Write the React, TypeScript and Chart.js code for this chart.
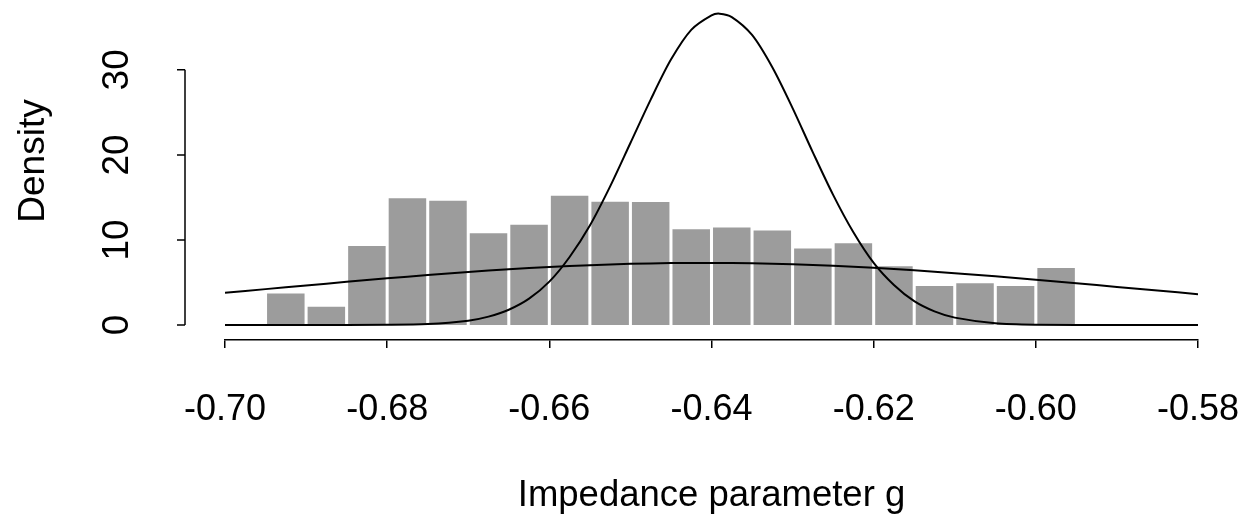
import React, { useEffect, useRef } from "react";
import { Chart, registerables } from "chart.js";

Chart.register(...registerables);

// Histogram bins (midpoints) and density heights
const binMids = [
  -0.6925, -0.6875, -0.6825, -0.6775, -0.6725, -0.6675, -0.6625, -0.6575, -0.6525, -0.6475,
  -0.6425, -0.6375, -0.6325, -0.6275, -0.6225, -0.6175, -0.6125, -0.6075, -0.6025, -0.5975,
];
const binHeights = [
  3.7, 2.15, 9.3, 14.9, 14.6, 10.8, 11.8, 15.2, 14.5, 14.45,
  11.25, 11.45, 11.1, 9.0, 9.6, 6.9, 4.6, 4.9, 4.6, 6.7,
];

// Narrow (posterior) density curve
const narrowX = [
  -0.7, -0.69, -0.68, -0.675, -0.67, -0.6675, -0.665, -0.6625, -0.66, -0.6575,
  -0.655, -0.6525, -0.65, -0.6475, -0.645, -0.6425, -0.64, -0.639, -0.6375, -0.635,
  -0.6325, -0.63, -0.6275, -0.625, -0.6225, -0.62, -0.6175, -0.615, -0.6125, -0.61,
  -0.605, -0.6, -0.59, -0.58,
];
const narrowY = [
  0, 0, 0.02, 0.11, 0.51, 0.99, 1.8, 3.1, 5.1, 8.0,
  11.7, 16.3, 21.4, 26.5, 31.2, 34.7, 36.4, 36.6, 36.2, 34.1,
  30.3, 25.5, 20.3, 15.3, 10.9, 7.3, 4.7, 2.8, 1.6, 0.87,
  0.21, 0.04, 0, 0,
];

// Wide (prior) density curve
const wideX = [
  -0.7, -0.695, -0.69, -0.685, -0.68, -0.675, -0.67, -0.665, -0.66, -0.655,
  -0.65, -0.645, -0.64, -0.635, -0.63, -0.625, -0.62, -0.615, -0.61, -0.605,
  -0.6, -0.595, -0.59, -0.585, -0.58,
];
const wideY = [
  3.8, 4.22, 4.65, 5.08, 5.49, 5.88, 6.24, 6.55, 6.82, 7.04,
  7.19, 7.28, 7.3, 7.25, 7.14, 6.96, 6.72, 6.43, 6.1, 5.73,
  5.33, 4.91, 4.48, 4.05, 3.63,
];

const xTicks = [-0.7, -0.68, -0.66, -0.64, -0.62, -0.6, -0.58];
const yTicks = [0, 10, 20, 30];
const xTitle = "Impedance parameter g";
const yTitle = "Density";

const FONT = "'Liberation Sans', Arial, Helvetica, sans-serif";

const yAxisPlugin = {
  id: "rYAxis",
  afterDraw(chart: any) {
    const ctx = chart.ctx;
    const y = chart.scales.y;
    const axisX = 185;
    const y0 = y.getPixelForValue(yTicks[0]);
    const y1 = y.getPixelForValue(yTicks[yTicks.length - 1]);
    ctx.save();
    ctx.strokeStyle = "#000";
    ctx.lineWidth = 1.5;
    ctx.beginPath();
    ctx.moveTo(axisX, y0);
    ctx.lineTo(axisX, y1);
    for (const t of yTicks) {
      const py = y.getPixelForValue(t);
      ctx.moveTo(axisX, py);
      ctx.lineTo(axisX - 8, py);
    }
    ctx.stroke();
    ctx.fillStyle = "#000";
    ctx.font = `37px ${FONT}`;
    ctx.textAlign = "center";
    ctx.textBaseline = "middle";
    for (const t of yTicks) {
      const py = y.getPixelForValue(t);
      ctx.save();
      ctx.translate(118, py);
      ctx.rotate(-Math.PI / 2);
      ctx.fillText(String(t), 0, 0);
      ctx.restore();
    }
    ctx.save();
    ctx.translate(34, 161);
    ctx.rotate(-Math.PI / 2);
    ctx.fillText(yTitle, 0, 0);
    ctx.restore();
    ctx.restore();
  },
};

export default function App() {
  const ref = useRef<HTMLCanvasElement | null>(null);
  useEffect(() => {
    if (!ref.current) return;
    const chart = new Chart(ref.current, {
      type: "bar",
      data: {
        datasets: [
          {
            type: "line",
            data: narrowX.map((x, i) => ({ x, y: narrowY[i] })),
            borderColor: "#000",
            borderWidth: 2,
            pointRadius: 0,
            tension: 0.3,
            order: 0,
          } as any,
          {
            type: "line",
            data: wideX.map((x, i) => ({ x, y: wideY[i] })),
            borderColor: "#000",
            borderWidth: 2,
            pointRadius: 0,
            tension: 0.3,
            order: 0,
          } as any,
          {
            type: "bar",
            data: binMids.map((x, i) => ({ x, y: binHeights[i] })),
            backgroundColor: "#9c9c9c",
            borderWidth: 0,
            barPercentage: 0.925,
            categoryPercentage: 1,
            grouped: false,
            order: 1,
          } as any,
        ],
      },
      plugins: [yAxisPlugin],
      options: {
        animation: false,
        responsive: false,
        maintainAspectRatio: false,
        layout: { padding: { left: 225, right: 46, top: 6, bottom: 0 } },
        plugins: { legend: { display: false }, tooltip: { enabled: false } },
        scales: {
          x: {
            type: "linear",
            min: -0.7,
            max: -0.58,
            offset: false,
            afterBuildTicks: (scale: any) => {
              scale.ticks = xTicks.map((v) => ({ value: v }));
            },
            afterFit: (scale: any) => {
              scale.height = 178;
              scale.paddingLeft = 0;
              scale.paddingRight = 0;
            },
            grid: {
              display: true,
              drawOnChartArea: false,
              drawTicks: true,
              tickLength: 8,
              color: "#000",
              lineWidth: 1.5,
              offset: false,
            },
            border: { display: true, color: "#000", width: 1.5 },
            ticks: {
              color: "#000",
              font: { size: 36, family: FONT },
              padding: 40,
              maxRotation: 0,
              minRotation: 0,
              autoSkip: false,
              callback: (v: any) => Number(v).toFixed(2),
            },
            title: {
              display: true,
              text: xTitle,
              color: "#000",
              font: { size: 36.5, family: FONT },
              padding: { top: 0, bottom: 0 },
            },
          },
          y: {
            type: "linear",
            display: false,
            min: -1.76,
            max: 37.5,
          },
        },
      } as any,
    });
    return () => chart.destroy();
  }, []);
  return (
    <div style={{ position: "absolute", left: 0, top: 0, width: 1244, height: 518, background: "#fff" }}>
      <canvas ref={ref} width={1244} height={518} style={{ width: 1244, height: 518, display: "block" }} />
    </div>
  );
}
